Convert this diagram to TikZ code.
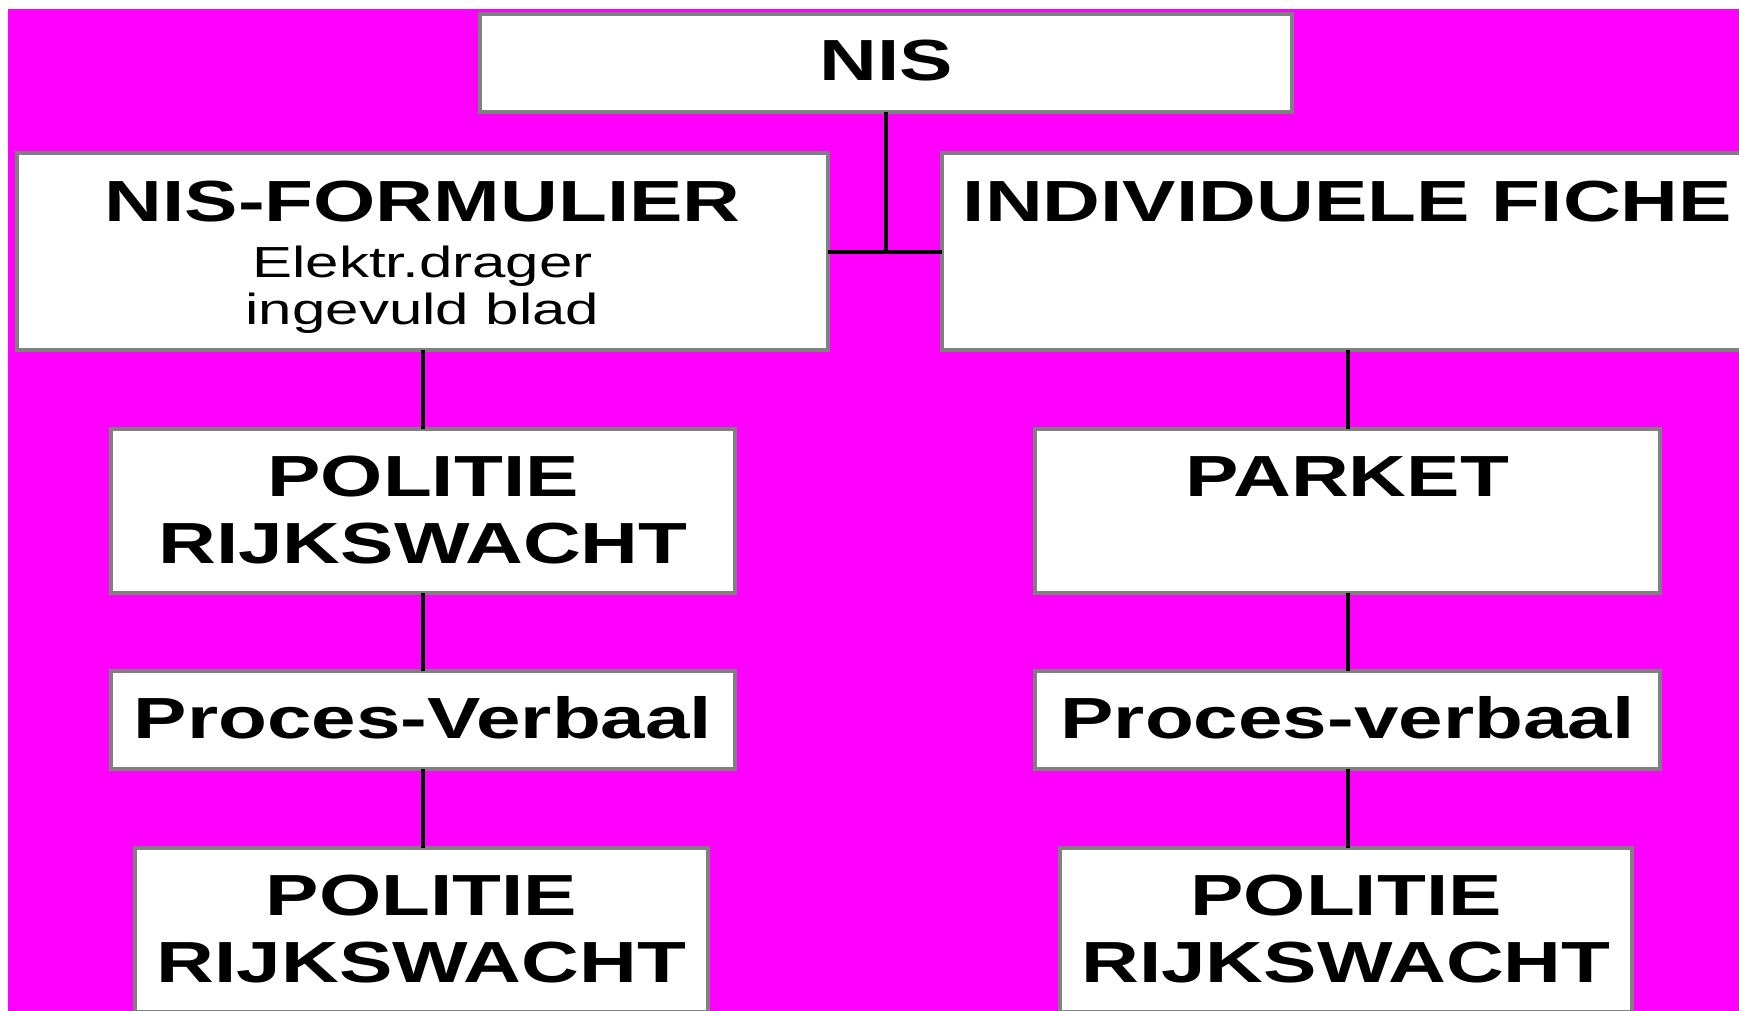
\documentclass[tikz,border=0pt]{standalone}
\usepackage{fontspec}
\setmainfont{Liberation Sans}
\newfontfamily\widesans[FakeStretch=1.38]{Liberation Sans}
\definecolor{bgpink}{RGB}{255,0,255}
\definecolor{boxgray}{RGB}{128,128,128}
\newcommand{\bigtext}{\widesans\bfseries\fontsize{58}{67}\selectfont}
\newcommand{\smalltext}{\widesans\fontsize{43.5}{47}\selectfont}
\begin{document}
\begin{tikzpicture}
  [x=1pt,y=-1pt,
   every node/.style={draw=boxgray,line width=3.5pt,fill=white,inner sep=0pt,outer sep=0pt},
   boxlabel/.style={draw=none,fill=none,anchor=base,yshift=-67pt,align=center,font=\bigtext},
   twolabel/.style={boxlabel,yshift=-67pt},
   sublabel/.style={boxlabel,yshift=-104pt,font=\smalltext},
   link/.style={line width=4pt,black}]
  \useasboundingbox (0,0) rectangle (1739,1011);
  \fill[bgpink] (8,9) rectangle (1739,1011);

  \node[minimum width=812pt,minimum height=98pt,label={[boxlabel]north:NIS}] (nis) at (886,63) {};
  \node[minimum width=811pt,minimum height=197pt,label={[boxlabel,yshift=-1pt]north:NIS-FORMULIER},
    label={[sublabel]north:{Elektr.drager\\ingevuld blad}}] (form) at (422.5,251.5) {};
  \node[minimum width=811pt,minimum height=197pt,label={[boxlabel,yshift=-1pt]north:INDIVIDUELE FICHE}] (fiche) at (1347.5,251.5) {};
  \node[minimum width=624pt,minimum height=164pt,label={[twolabel]north:{POLITIE\\RIJKSWACHT}}] (pol1) at (423,511) {};
  \node[minimum width=625pt,minimum height=164pt,label={[boxlabel]north:PARKET}] (parket) at (1347.5,511) {};
  \node[minimum width=624pt,minimum height=98pt,label={[boxlabel]north:Proces-Verbaal}] (pv1) at (423,720) {};
  \node[minimum width=625pt,minimum height=98pt,label={[boxlabel]north:Proces-verbaal}] (pv2) at (1347.5,720) {};
  \node[minimum width=573pt,minimum height=164pt,label={[twolabel]north:{POLITIE\\RIJKSWACHT}}] (pol2) at (421.5,930) {};
  \node[minimum width=572pt,minimum height=164pt,label={[twolabel]north:{POLITIE\\RIJKSWACHT}}] (pol3) at (1346,930) {};

  \draw[link] (nis.south) -- (nis.south |- form.east);
  \draw[link] (form.east) -- (fiche.west);
  \foreach \from/\to in {form/pol1,pol1/pv1,pv1/pol2,fiche/parket,parket/pv2,pv2/pol3}
    \draw[link] (\from.south) -- (\from.south |- \to.north);
\end{tikzpicture}
\end{document}
